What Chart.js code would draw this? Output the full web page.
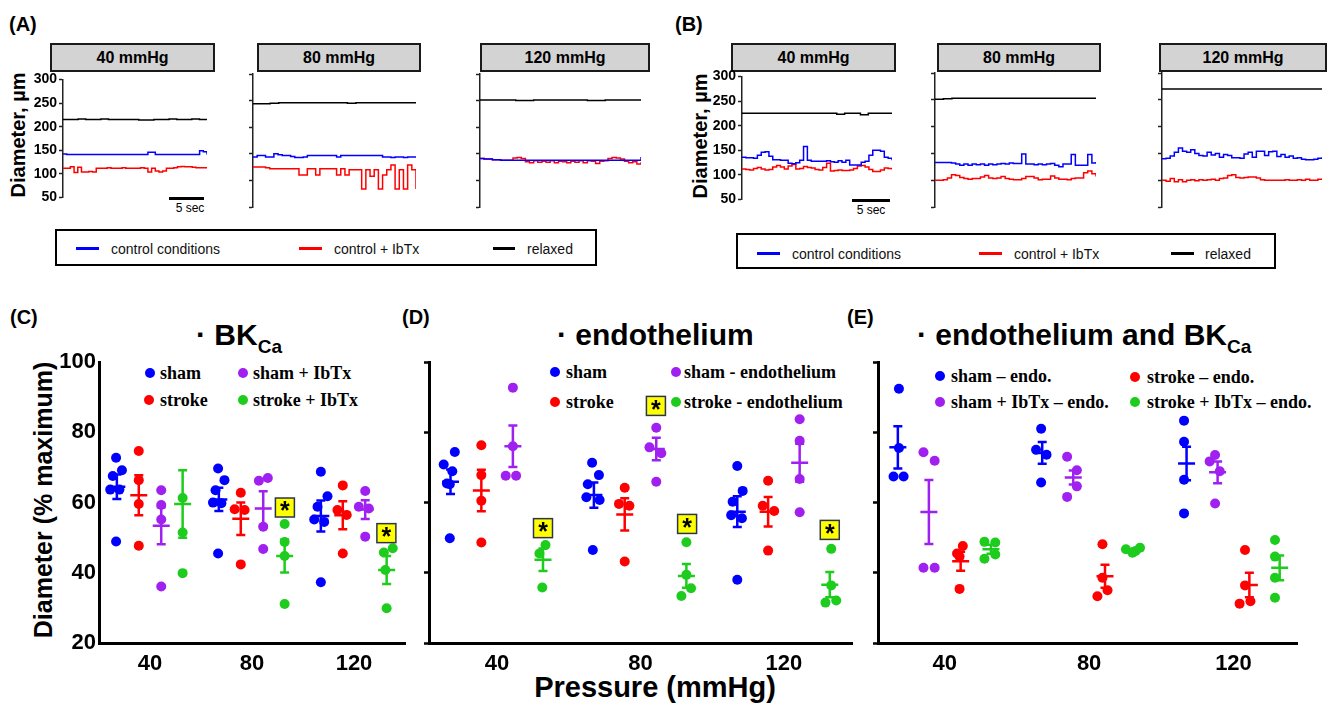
<!DOCTYPE html>
<html>
<head>
<meta charset="utf-8">
<script src="https://cdn.jsdelivr.net/npm/chart.js@4.4.1/dist/chart.umd.min.js"></script>
<style>
body { margin: 0; background: #fff; width: 1329px; height: 704px; overflow: hidden; position: relative; font-family: "Liberation Sans", Arial, sans-serif; }
canvas { position: absolute; }
.lbl { position: absolute; font-weight: bold; font-size: 20px; line-height: 1; }
.hdr { position: absolute; box-sizing: border-box; background: #d3d3d3; border: 2px solid #1a1a1a; font-weight: bold; font-size: 16px; display: flex; align-items: center; justify-content: center; }
.leg { position: absolute; box-sizing: border-box; border: 2px solid #000; background: #fff; }
.legline { position: absolute; height: 3px; }
.legtxt { position: absolute; font-size: 14px; line-height: 1; transform: translateY(-50%); white-space: nowrap; color: #111; }
.ytitle { position: absolute; font-weight: bold; white-space: nowrap; line-height: 1; transform: translate(-50%, -50%) rotate(-90deg); }
.title { position: absolute; font-weight: bold; font-size: 30px; white-space: nowrap; line-height: 1; }
.title sub { font-size: 19px; vertical-align: -8px; line-height: 0; }
.sleg { position: absolute; font-family: "Liberation Serif", "Times New Roman", serif; font-weight: bold; font-size: 18px; line-height: 1; transform: translateY(-50%); white-space: nowrap; }
.dot { position: absolute; width: 10px; height: 10px; border-radius: 50%; transform: translate(-50%, -50%); }
.bar { position: absolute; height: 3px; background: #000; }
.sec { position: absolute; font-size: 12px; line-height: 1; transform: translate(-50%, -50%); }
.xt { position: absolute; font-weight: bold; font-size: 29px; line-height: 1; transform: translate(-50%, -50%); white-space: nowrap; }
</style>
</head>
<body>

<!-- panel labels -->
<div class="lbl" style="left:9px;top:14px">(A)</div>
<div class="lbl" style="left:675px;top:14px">(B)</div>
<div class="lbl" style="left:10px;top:307px">(C)</div>
<div class="lbl" style="left:402px;top:307px">(D)</div>
<div class="lbl" style="left:847px;top:307px">(E)</div>

<!-- pressure headers -->
<div class="hdr" style="left:50px;top:43px;width:165px;height:29px">40 mmHg</div>
<div class="hdr" style="left:257px;top:43px;width:164px;height:29px">80 mmHg</div>
<div class="hdr" style="left:480px;top:43px;width:170px;height:29px">120 mmHg</div>
<div class="hdr" style="left:731px;top:43px;width:165px;height:29px">40 mmHg</div>
<div class="hdr" style="left:937px;top:43px;width:164px;height:29px">80 mmHg</div>
<div class="hdr" style="left:1159px;top:43px;width:168px;height:29px">120 mmHg</div>

<div class="ytitle" style="left:18px;top:135px;font-size:20px">Diameter, µm</div>
<div class="ytitle" style="left:700px;top:136px;font-size:20px">Diameter, µm</div>

<!-- 5 sec bars -->
<div class="bar" style="left:169px;top:197px;width:35px"></div>
<div class="sec" style="left:190px;top:208px">5 sec</div>
<div class="bar" style="left:852px;top:199px;width:38px"></div>
<div class="sec" style="left:871px;top:210px">5 sec</div>

<!-- trace legends -->
<div class="leg" style="left:55px;top:229px;width:542px;height:37px"></div>
<div class="legline" style="left:76px;top:247px;width:23px;background:#0000ff"></div>
<div class="legtxt" style="left:111px;top:249px">control conditions</div>
<div class="legline" style="left:299px;top:247px;width:23px;background:#ff0000"></div>
<div class="legtxt" style="left:334px;top:249px">control + IbTx</div>
<div class="legline" style="left:493px;top:247px;width:22px;background:#000"></div>
<div class="legtxt" style="left:527px;top:249px">relaxed</div>

<div class="leg" style="left:736px;top:233px;width:540px;height:36px"></div>
<div class="legline" style="left:757px;top:252px;width:23px;background:#0000ff"></div>
<div class="legtxt" style="left:792px;top:254px">control conditions</div>
<div class="legline" style="left:979px;top:252px;width:23px;background:#ff0000"></div>
<div class="legtxt" style="left:1014px;top:254px">control + IbTx</div>
<div class="legline" style="left:1171px;top:252px;width:23px;background:#000"></div>
<div class="legtxt" style="left:1205px;top:254px">relaxed</div>

<!-- titles of C, D, E -->
<div class="title" style="left:196px;top:320px">· BK<sub>Ca</sub></div>
<div class="title" style="left:557px;top:320px">· endothelium</div>
<div class="title" style="left:917px;top:320px">· endothelium and BK<sub>Ca</sub></div>

<div class="ytitle" style="left:43px;top:500px;font-size:25px">Diameter (% maximum)</div>
<div class="xt" style="left:655px;top:687px">Pressure (mmHg)</div>

<!-- scatter legends -->
<div class="dot" style="left:150px;top:373px;background:#0000ff"></div>
<div class="sleg" style="left:160px;top:373px">sham</div>
<div class="dot" style="left:243px;top:373px;background:#a020f0"></div>
<div class="sleg" style="left:253px;top:373px">sham + IbTx</div>
<div class="dot" style="left:149px;top:400px;background:#ff0000"></div>
<div class="sleg" style="left:160px;top:400px">stroke</div>
<div class="dot" style="left:243px;top:400px;background:#1ecc1e"></div>
<div class="sleg" style="left:253px;top:400px">stroke + IbTx</div>

<div class="dot" style="left:555px;top:372px;background:#0000ff"></div>
<div class="sleg" style="left:566px;top:372px">sham</div>
<div class="dot" style="left:676px;top:372px;background:#a020f0"></div>
<div class="sleg" style="left:684px;top:372px">sham - endothelium</div>
<div class="dot" style="left:555px;top:402px;background:#ff0000"></div>
<div class="sleg" style="left:566px;top:402px">stroke</div>
<div class="dot" style="left:676px;top:402px;background:#1ecc1e"></div>
<div class="sleg" style="left:684px;top:402px">stroke - endothelium</div>

<div class="dot" style="left:940px;top:376px;background:#0000ff"></div>
<div class="sleg" style="left:951px;top:376px">sham – endo.</div>
<div class="dot" style="left:1135px;top:377px;background:#ff0000"></div>
<div class="sleg" style="left:1147px;top:377px">stroke – endo.</div>
<div class="dot" style="left:940px;top:402px;background:#a020f0"></div>
<div class="sleg" style="left:951px;top:402px">sham + IbTx – endo.</div>
<div class="dot" style="left:1135px;top:402px;background:#1ecc1e"></div>
<div class="sleg" style="left:1147px;top:402px">stroke + IbTx – endo.</div>

<script>
// ---- traces (A, B), diameter in um ----
const a40Relaxed = [215,215,216,215,215,216,215,215,215,215,214,214,215,215,216,215,215,216,215,215];
const a40Control = [142,141,141,141,141,141,141,141,141,141,141,141,141,141,141,141,141,141,141,141,141,141,141,146,146,141,141,141,141,141,141,141,141,141,141,141,141,149,147,141];
const a40Ibtx = [112,112,115,103,114,104,104,105,104,112,112,112,113,112,112,112,113,112,112,112,112,113,112,104,112,106,104,106,112,112,113,115,116,115,115,114,113,113,113,113];

const a80Relaxed = [244,244,245,246,246,246,246,246,246,246,246,245,246,246,246,246,246,246,246,246];
const a80Control = [144,147,147,144,144,150,148,147,147,145,143,143,144,147,147,147,147,147,147,147,144,147,147,147,147,147,147,147,147,147,147,144,144,143,144,144,143,144,144,144];
const a80Ibtx = [125,125,125,124,122,122,122,122,122,122,122,110,110,122,122,110,122,122,122,122,110,122,110,120,120,120,84,120,108,120,84,110,120,129,84,120,84,129,120,84];

const a120Relaxed = [251,251,250,251,251,251,250,251,251,251];
const a120Control = [141,140,140,139,139,138,138,138,138,138,138,138,138,138,138,138,138,138,138,138,138,138,138,138,138,138,138,138,138,138,138,138,138,138,138,138,138,138,138,144];
const a120Ibtx = [141,140,140,139,139,138,138,138,142,143,141,135,133,137,134,136,134,137,133,136,135,133,136,134,137,133,137,136,132,136,137,141,143,142,140,136,133,135,131,134];

const b40Relaxed = [225,225,225,225,225,225,225,225,225,225,225,225,223,225,225,222,225,225,225,225];
const b40Control = [136,135,135,134,140,146,147,138,131,131,130,130,124,123,125,130,158,130,128,128,128,128,129,127,126,129,126,130,120,120,120,126,128,140,150,150,148,136,134,130];
const b40Ibtx = [112,111,110,113,115,112,110,111,116,119,116,112,118,121,112,113,117,115,114,111,110,115,124,108,109,110,109,109,110,113,118,119,116,111,107,107,110,114,113,111];

const b80Relaxed = [251,252,253,253,253,253,253,253,253,253,253,253,253,253,253,253,253,253,253,253];
const b80Control = [133,133,133,133,132,130,128,130,128,130,129,130,128,130,129,130,131,130,132,131,131,149,130,130,129,130,129,130,131,128,125,130,130,148,128,128,128,148,132,134];
const b80Ibtx = [100,100,101,104,110,109,105,103,102,103,103,106,109,104,103,104,107,103,102,101,101,103,107,107,104,101,102,102,108,104,102,102,101,103,104,104,114,117,112,107];

const b120Relaxed = [270,270,270,270,270,270,270,270,270,270];
const b120Control = [140,141,145,152,160,154,152,157,150,146,145,152,147,150,143,148,146,142,142,141,149,152,143,154,154,146,153,154,144,148,143,145,141,142,139,138,138,139,141,143];
const b120Ibtx = [100,98,103,97,101,97,100,101,99,101,100,101,102,100,103,104,109,110,105,104,105,106,106,104,101,100,100,100,100,100,101,100,100,101,100,102,100,100,102,101];

// ---- summary panels (C, D, E), % maximum, per pressure ----
const pressures = [40, 80, 120];

// C: BKCa
const cShamVals = [[72.8,67.6,69.2,63.7,63.7,48.9],[69.7,66.4,63.5,60.0,59.8,45.5],[68.8,61.8,58.8,55.2,54.5,37.3]];
const cShamJit = [[-0.3,-1.6,2.0,-2.6,1.0,-0.3],[-0.3,2.2,-1.3,-2.3,1.0,-0.3],[0,2.6,-1.3,-2.6,1.3,0]];
const cShamMean = [64.5,60.9,56.2];
const cShamSem = [3.5,3.3,4.4];
const cStrokeVals = [[74.7,66.4,59.6,47.7],[62.8,58.1,57.9,42.4],[64.9,57.9,56.5,45.5]];
const cStrokeJit = [[0,0,0,0],[0,-2.4,1.5,0],[0,-2.1,1.5,0]];
const cStrokeMean = [62.1,55.4,56.4];
const cStrokeSem = [5.7,4.6,4.0];
const cShamIbVals = [[63.5,59.3,55.2,36.1],[66.2,67.0,53.1,46.8],[63.3,58.8,58.3,50.3]];
const cShamIbJit = [[0,0,0,0],[-1.7,1.8,0,0],[0,-2.5,1.4,0]];
const cShamIbMean = [53.4,58.3,58.0];
const cShamIbSem = [5.3,4.9,2.7];
const cStrokeIbVals = [[61.3,51.5,39.9],[53.9,48.8,44.8,31.1],[45.8,47.0,40.8,29.9]];
const cStrokeIbJit = [[0,0,0],[0,0,0,0],[-1.1,2.4,-0.5,0]];
const cStrokeIbMean = [59.6,44.8,40.8];
const cStrokeIbSem = [9.6,4.7,4.0];
const cStarX = [92.9,132.7];
const cStarY = [58.6,51.3];

// D: endothelium
const dShamVals = [[74.4,70.8,68.9,65.4,65.2,49.8],[71.3,67.8,65.2,61.5,60.7,46.5],[70.4,63.3,60.2,56.4,55.5,38.0]];
const dShamJit = [[1.2,-1.9,0.5,-1.0,-0.2,-0.2],[-0.5,1.4,-1.7,-2.1,1.6,-0.3],[0,1.5,-1.3,-1.7,1.3,0]];
const dShamMean = [65.9,62.1,57.4];
const dShamSem = [3.5,3.6,4.4];
const dStrokeVals = [[76.3,67.8,60.5,48.6],[64.2,59.6,59.1,43.2],[66.2,59.1,57.6,46.3]];
const dStrokeJit = [[0,0,0,0],[0,-1.6,1.3,0],[0,-1.5,1.7,0]];
const dStrokeMean = [63.4,56.6,57.4];
const dStrokeSem = [5.9,4.6,4.2];
const dShamEndoVals = [[92.7,76.0,67.6,67.6],[81.3,75.7,74.0,65.9],[83.7,77.6,66.7,57.2]];
const dShamEndoJit = [[0,0,-2.0,0.9],[0,-1.9,1.4,0],[0,0,0,0]];
const dShamEndoMean = [76.0,75.2,71.3];
const dShamEndoSem = [5.9,3.2,5.4];
const dStrokeEndoVals = [[47.9,45.5,35.8],[48.7,39.4,35.6,33.4],[46.8,36.4,31.5,32.1]];
const dStrokeEndoJit = [[0.7,-1.0,-0.2],[0,0,1.3,-1.4],[0.4,0.4,-1.2,1.8]];
const dStrokeEndoMean = [43.7,39.1,36.6];
const dStrokeEndoSem = [3.2,3.4,3.6];
const dStarX = [52.8,84.3,93.0,132.8];
const dStarY = [52.7,87.5,53.9,52.2];

// E: endothelium and BKCa
const eShamEndoVals = [[92.4,75.5,67.4,67.4],[81.0,75.0,73.6,65.7],[83.3,77.3,66.5,56.9]];
const eShamEndoJit = [[0.3,0.3,-1.2,1.6],[-0.3,-1.7,1.2,-0.3],[-0.7,-0.7,-0.7,-0.7]];
const eShamEndoMean = [75.7,74.1,71.1];
const eShamEndoSem = [6.0,3.1,4.8];
const eShamIbEndoVals = [[74.3,71.9,41.4,41.4],[73.0,69.2,64.6,61.6],[73.5,71.7,68.9,59.7]];
const eShamIbEndoJit = [[-1.5,1.6,-1.5,1.6],[-1.7,1.0,1.0,-1.7],[-0.7,-2.2,0.6,-0.7]];
const eShamIbEndoMean = [57.3,67.1,68.6];
const eShamIbEndoSem = [9.1,2.0,3.1];
const eStrokeEndoVals = [[47.6,45.5,44.6,35.4],[48.1,38.6,35.0,33.3],[46.5,36.4,31.2,31.9]];
const eStrokeEndoJit = [[0.6,-1.0,-0.3,-0.3],[-0.7,-0.7,0.7,-2.1],[-1.2,-1.2,-2.7,0.3]];
const eStrokeEndoMean = [43.3,39.0,36.5];
const eStrokeEndoSem = [2.7,3.3,3.5];
const eStrokeIbEndoVals = [[48.8,48.6,44.0,45.2],[46.7,45.7,47.1,46.2],[49.3,44.6,38.6,32.9]];
const eStrokeIbEndoJit = [[-1.8,1.2,-1.8,1.2],[-2.6,-0.8,1.3,0.1],[-1.3,-1.3,-1.3,-1.3]];
const eStrokeIbEndoMean = [46.7,46.5,41.4];
const eStrokeIbEndoSem = [1.3,0.4,3.5];

const BLUE = '#0000ff', RED = '#ff0000', PURPLE = '#a020f0', GREEN = '#1ecc1e', BLACK = '#000000';
const groupOffsets = [-13, -4.4, 4.4, 12.8];

Chart.defaults.font.family = '"Liberation Sans", Arial, sans-serif';
Chart.defaults.color = '#000';

// canvas placed so that the chart area lands on the given rectangle
function addCanvas(area, yw, pad, xh) {
  const c = document.createElement('canvas');
  const w = Math.round(area.r - area.l) + yw + pad.r;
  const h = Math.round(area.b - area.t) + pad.t + xh + pad.b;
  c.width = w; c.height = h;
  c.style.left = Math.round(area.l - yw) + 'px';
  c.style.top = Math.round(area.t - pad.t) + 'px';
  c.style.width = w + 'px';
  c.style.height = h + 'px';
  document.body.appendChild(c);
  return c;
}

function traceChart(area, series, showLabels) {
  const yw = showLabels ? 40 : 8;
  const pad = {t: 10, r: 2, b: 10};
  const c = addCanvas(area, yw, pad, 0);
  new Chart(c, {
    type: 'line',
    data: {
      datasets: series.map(s => ({
        data: s.vals.map((v, i) => ({x: i / (s.vals.length - 1), y: v})),
        borderColor: s.color, borderWidth: 1.5, pointRadius: 0, stepped: true, fill: false
      }))
    },
    options: {
      responsive: false, animation: false, devicePixelRatio: 1,
      layout: {padding: {top: pad.t, right: pad.r, bottom: pad.b, left: 0}},
      plugins: {legend: {display: false}, tooltip: {enabled: false}},
      scales: {
        x: {type: 'linear', display: false, min: 0, max: 1},
        y: {
          min: 50, max: 300,
          afterFit: s => { s.width = yw; },
          ticks: {display: showLabels, stepSize: 50, font: {size: 14, weight: 'bold'}, padding: 2},
          grid: {drawOnChartArea: false, drawTicks: true, tickLength: 4, tickWidth: 1.5, tickColor: '#222'},
          border: {display: true, width: 1.5, color: '#222'}
        }
      }
    }
  });
}

function meanSemPlugin(groups, starX, starY) {
  return {
    id: 'meanSem',
    afterDatasetsDraw(chart) {
      const ctx = chart.ctx, xs = chart.scales.x, ys = chart.scales.y;
      ctx.save();
      groups.forEach(g => {
        ctx.strokeStyle = g.color;
        ctx.lineWidth = 2.5;
        g.mean.forEach((m, i) => {
          const cx = xs.getPixelForValue(pressures[i] + g.offset);
          const my = ys.getPixelForValue(m);
          const top = ys.getPixelForValue(m + g.sem[i]);
          const bot = ys.getPixelForValue(m - g.sem[i]);
          ctx.beginPath();
          ctx.moveTo(cx - 8.5, my); ctx.lineTo(cx + 8.5, my);
          ctx.moveTo(cx, top); ctx.lineTo(cx, bot);
          ctx.moveTo(cx - 4.5, top); ctx.lineTo(cx + 4.5, top);
          ctx.moveTo(cx - 4.5, bot); ctx.lineTo(cx + 4.5, bot);
          ctx.stroke();
        });
      });
      starX.forEach((sx, k) => {
        const px = xs.getPixelForValue(sx), py = ys.getPixelForValue(starY[k]);
        ctx.fillStyle = '#ffff00';
        ctx.fillRect(px - 9.5, py - 9.5, 19, 19);
        ctx.strokeStyle = '#2b3550';
        ctx.lineWidth = 1.5;
        ctx.strokeRect(px - 9.5, py - 9.5, 19, 19);
        ctx.fillStyle = '#000';
        ctx.font = 'bold 25px "Liberation Sans", Arial';
        ctx.textAlign = 'center';
        ctx.textBaseline = 'middle';
        ctx.fillText('*', px, py + 5);
      });
      ctx.restore();
    }
  };
}

function scatterChart(area, xMin, xMax, groups, starX, starY, showYLabels) {
  const yw = showYLabels ? 42 : 10;
  const pad = {t: 16, r: 4, b: 0};
  const xh = 40;
  const c = addCanvas(area, yw, pad, xh);
  new Chart(c, {
    type: 'scatter',
    data: {
      datasets: groups.map(g => ({
        data: g.vals.flatMap((arr, i) => arr.map((v, k) => ({x: pressures[i] + g.offset + g.jit[i][k], y: v}))),
        pointRadius: 5, pointHoverRadius: 5, pointBackgroundColor: g.color, pointBorderWidth: 0,
        showLine: false, clip: false
      }))
    },
    options: {
      responsive: false, animation: false, devicePixelRatio: 1,
      layout: {padding: {top: pad.t, right: pad.r, bottom: pad.b, left: 0}},
      plugins: {legend: {display: false}, tooltip: {enabled: false}},
      scales: {
        x: {
          type: 'linear', min: xMin, max: xMax,
          afterFit: s => { s.height = xh; },
          afterBuildTicks: s => { s.ticks = pressures.map(v => ({value: v})); },
          ticks: {font: {size: 22, weight: 'bold'}, padding: 8},
          grid: {display: true, drawOnChartArea: false, drawTicks: false},
          border: {display: true, width: 3, color: '#000'}
        },
        y: {
          min: 20, max: 100,
          afterFit: s => { s.width = yw; },
          ticks: {display: showYLabels, stepSize: 20, font: {size: 22, weight: 'bold'}, padding: 3},
          grid: {display: true, drawOnChartArea: false, drawTicks: !showYLabels, tickLength: 5, tickWidth: 2.5, tickColor: '#000'},
          border: {display: true, width: 3, color: '#000'}
        }
      }
    },
    plugins: [meanSemPlugin(groups, starX, starY)]
  });
}

// A
traceChart({l: 63, t: 79, r: 207, b: 198}, [
  {vals: a40Relaxed, color: BLACK}, {vals: a40Control, color: BLUE}, {vals: a40Ibtx, color: RED}], true);
traceChart({l: 253, t: 74, r: 416, b: 207}, [
  {vals: a80Relaxed, color: BLACK}, {vals: a80Control, color: BLUE}, {vals: a80Ibtx, color: RED}], false);
traceChart({l: 480, t: 74, r: 641, b: 207}, [
  {vals: a120Relaxed, color: BLACK}, {vals: a120Control, color: BLUE}, {vals: a120Ibtx, color: RED}], false);

// B
traceChart({l: 742, t: 76, r: 892, b: 200}, [
  {vals: b40Relaxed, color: BLACK}, {vals: b40Control, color: BLUE}, {vals: b40Ibtx, color: RED}], true);
traceChart({l: 935, t: 73, r: 1096, b: 207}, [
  {vals: b80Relaxed, color: BLACK}, {vals: b80Control, color: BLUE}, {vals: b80Ibtx, color: RED}], false);
traceChart({l: 1162, t: 73, r: 1322, b: 207}, [
  {vals: b120Relaxed, color: BLACK}, {vals: b120Control, color: BLUE}, {vals: b120Ibtx, color: RED}], false);

// C
scatterChart({l: 99, t: 362, r: 406, b: 643}, 20, 140, [
  {vals: cShamVals, jit: cShamJit, mean: cShamMean, sem: cShamSem, color: BLUE, offset: groupOffsets[0]},
  {vals: cStrokeVals, jit: cStrokeJit, mean: cStrokeMean, sem: cStrokeSem, color: RED, offset: groupOffsets[1]},
  {vals: cShamIbVals, jit: cShamIbJit, mean: cShamIbMean, sem: cShamIbSem, color: PURPLE, offset: groupOffsets[2]},
  {vals: cStrokeIbVals, jit: cStrokeIbJit, mean: cStrokeIbMean, sem: cStrokeIbSem, color: GREEN, offset: groupOffsets[3]}
], cStarX, cStarY, true);

// D
scatterChart({l: 429, t: 362, r: 853, b: 643}, 21, 139, [
  {vals: dShamVals, jit: dShamJit, mean: dShamMean, sem: dShamSem, color: BLUE, offset: groupOffsets[0]},
  {vals: dStrokeVals, jit: dStrokeJit, mean: dStrokeMean, sem: dStrokeSem, color: RED, offset: groupOffsets[1]},
  {vals: dShamEndoVals, jit: dShamEndoJit, mean: dShamEndoMean, sem: dShamEndoSem, color: PURPLE, offset: groupOffsets[2]},
  {vals: dStrokeEndoVals, jit: dStrokeEndoJit, mean: dStrokeEndoMean, sem: dStrokeEndoSem, color: GREEN, offset: groupOffsets[3]}
], dStarX, dStarY, false);

// E
scatterChart({l: 878, t: 362, r: 1298, b: 643}, 21.5, 137.6, [
  {vals: eShamEndoVals, jit: eShamEndoJit, mean: eShamEndoMean, sem: eShamEndoSem, color: BLUE, offset: groupOffsets[0]},
  {vals: eShamIbEndoVals, jit: eShamIbEndoJit, mean: eShamIbEndoMean, sem: eShamIbEndoSem, color: PURPLE, offset: groupOffsets[1]},
  {vals: eStrokeEndoVals, jit: eStrokeEndoJit, mean: eStrokeEndoMean, sem: eStrokeEndoSem, color: RED, offset: groupOffsets[2]},
  {vals: eStrokeIbEndoVals, jit: eStrokeIbEndoJit, mean: eStrokeIbEndoMean, sem: eStrokeIbEndoSem, color: GREEN, offset: groupOffsets[3]}
], [], [], false);
</script>
</body>
</html>
